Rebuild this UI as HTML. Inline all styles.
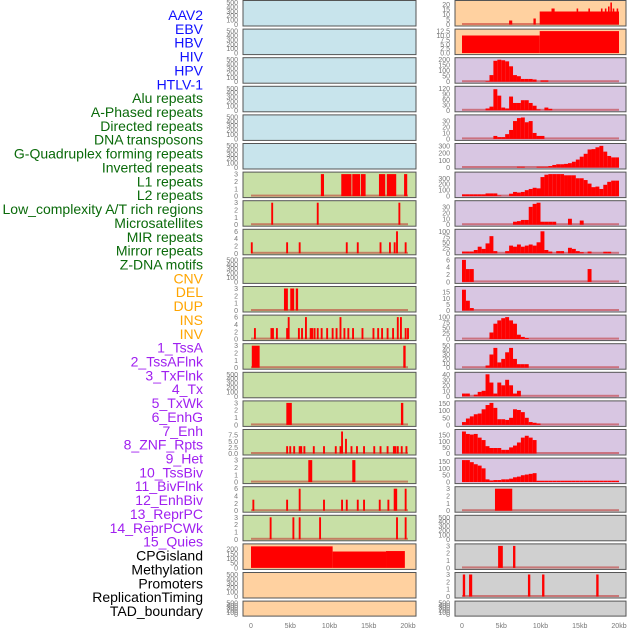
<!DOCTYPE html>
<html><head><meta charset="utf-8">
<style>
html,body{margin:0;padding:0;background:#fff;}
svg{display:block;font-family:"Liberation Sans",sans-serif;}
</style></head>
<body>
<svg id="chart" width="630" height="630" viewBox="0 0 630 630"></svg>
<script>
// ---- Track labels ----
const labelNames = ["AAV2","EBV","HBV","HIV","HPV","HTLV-1","Alu repeats","A-Phased repeats","Directed repeats","DNA transposons","G-Quadruplex forming repeats","Inverted repeats","L1 repeats","L2 repeats","Low_complexity A/T rich regions","Microsatellites","MIR repeats","Mirror repeats","Z-DNA motifs","CNV","DEL","DUP","INS","INV","1_TssA","2_TssAFlnk","3_TxFlnk","4_Tx","5_TxWk","6_EnhG","7_Enh","8_ZNF_Rpts","9_Het","10_TssBiv","11_BivFlnk","12_EnhBiv","13_ReprPC","14_ReprPCWk","15_Quies","CPGisland","Methylation","Promoters","ReplicationTiming","TAD_boundary"];
const labelGroups = [6,13,5,15,5];
const groupColors = ["#1010ff","#0a6a0a","#ffa500","#a020f0","#000000"];
const xTicks = [0,5000,10000,15000,20000];
const xTickLabels = ["0","5kb","10kb","15kb","20kb"];

// ---- Left column data (spikes: kb positions / values, blocks: [start,end,value]) ----
const l1Blocks = [[8.9,9.3,3],[11.5,12.8,3],[12.9,13.9,3],[14.0,14.6,3],[16.3,17.1,3],[17.3,18.5,3],[19.5,19.9,3]];
const l2Spikes = [2.7,8.5,18.9];
const l2Values = [3,3,3];
const lowcSpikes = [0.1,4.6,6.2,12.2,13.6,16.5,17.7,18.3,18.6,19.7];
const lowcValues = [3,3,3,3,3,3,3,3,6,3];
const mirBlocks = [[4.2,4.7,3],[5.0,5.5,3],[5.7,6.0,3]];
const msatSpikes = [0.5,2.6,2.8,3.3,4.6,4.8,6.1,6.5,7.0,7.6,7.8,8.1,8.5,9.0,9.7,10.4,10.9,11.4,11.9,12.4,13.0,14.2,15.6,16.2,16.7,17.4,18.1,18.7,19.1,20.0,19.7];
const msatValues = [3,3,3,3,3,6,3,3,6,3,3,3,3,3,3,3,3,6,3,3,3,3,3,3,3,3,3,6,6,3,3];
const zdnaBlocks = [[0.1,1.1,3],[19.4,19.7,3]];
const cnvBlocks = [[4.5,5.2,3],[19.1,19.4,3]];
const delSpikes = [4.6,5.0,5.5,6.2,6.4,6.8,8.0,9.3,10.8,11.4,11.6,12.1,12.8,13.5,14.4,15.7,16.5,17.4,18.2,18.4,18.7,19.2,19.8];
const delValues = [3,3,3,3,3,3,3,3,3,3,9,6,3,3,3,3,3,3,3,3,3,3,3];
const dupBlocks = [[7.3,7.8,3],[12.9,13.3,3]];
const insSpikes = [0.3,4.6,6.2,9.3,11.6,12.2,13.6,14.4,16.4,17.5,18.3,18.5,19.7];
const insValues = [3,3,6,3,3,3,3,3,3,3,6,6,6];
const invSpikes = [2.5,5.4,6.2,8.8,18.6,19.7];
const invValues = [3,3,3,3,3,3];
const cpgBlocks = [[0,10.4,230],[10.4,17.2,175],[17.2,19.6,180]];

// ---- Right column data (0.5kb bins from 0 to 20kb) ----
const hivBins = [0,0,0,0,0,0,5,60,190,200,195,185,140,60,50,25,25,25,20,0,12,12,0,0,0,0,0,0,0,0,0,0,0,0,0,0,0,0,0,0];
const hpvBins = [0,0,0,0,0,0,10,20,115,80,15,10,75,40,40,55,55,40,25,5,0,15,8,0,0,0,0,0,0,0,0,0,0,0,0,0,0,0,0,0];
const htlvBins = [0,0,0,0,0,0,0,0,5,3,3,8,15,30,35,36,28,30,10,5,5,0,0,0,0,0,0,0,0,0,0,0,0,0,0,0,0,0,0,0];
const aluBins = [0,0,0,0,0,0,0,0,0,0,0,0,0,0,10,10,0,0,0,10,10,10,20,35,45,45,50,60,80,110,150,190,250,255,280,300,220,160,140,140];
const aphasedBins = [30,30,30,30,30,30,45,45,45,10,0,0,40,70,60,70,100,120,140,130,320,360,370,370,370,370,350,350,350,300,300,270,210,150,160,120,190,240,260,260];
const directedBins = [0,0,0,0,0,0,0,0,0,0,0,0,0,5,6,8,8,30,35,37,5,5,5,5,0,0,0,10,0,0,7,0,0,0,0,0,0,0,0,0];
const dnaBins = [8,8,8,15,30,20,45,78,10,0,0,10,35,30,40,30,35,40,35,50,100,15,8,0,10,10,0,25,20,10,5,0,8,0,0,0,7,7,0,0];
const mirrorBins = [6,3.5,3.5,0,0,0,0,0,0,0,0,0,0,0,0,0,0,0,0,0,0,0,0,0,0,0,0,0,0,0,0,0,3.5,0,0,0,0,0,0,0];
const zdnaBins = [17,8,2,0,0,0,0,0,0,0,0,0,0,0,0,0,0,0,0,0,0,0,0,0,0,0,0,0,0,0,0,0,0,0,0,0,0,0,0,0];
const cnvBins = [0,0,0,0,0,0,0,30,70,85,95,100,85,70,20,10,5,0,0,0,0,0,0,0,0,0,0,0,0,0,0,0,0,0,0,0,0,0,0,0];
const delBins = [0,0,0,0,0,0,5,30,45,12,20,35,45,20,8,8,8,0,0,0,0,0,0,0,0,0,0,0,0,0,0,0,0,0,0,0,0,0,0,0];
const dupBins = [5,5,0,3,8,10,40,25,5,25,20,30,20,5,10,0,0,0,0,0,0,0,0,0,0,0,0,0,0,0,0,0,0,0,0,0,0,0,0,0];
const insBins = [20,45,60,75,80,110,140,155,120,40,40,35,50,110,105,90,50,20,15,10,0,0,0,0,0,0,0,0,0,0,0,0,0,0,0,0,0,0,0,0];
const invBins = [180,160,155,160,130,110,60,45,45,45,30,30,50,65,90,130,145,130,110,0,0,0,0,0,0,0,0,0,0,0,0,0,0,0,0,0,0,0,0,0];
const tssaBins = [160,160,145,130,120,100,20,12,15,15,20,20,25,35,40,50,55,60,65,10,10,10,10,10,10,10,10,10,10,10,10,10,10,10,10,10,10,10,10,10];
const aavBlocks = [[6.0,6.4,4],[9.1,9.4,6],[9.9,20,13],[11.4,11.8,16],[14.6,14.8,16],[16.1,16.3,16],[17.7,17.9,16],[18.2,18.4,16],[18.6,18.8,18],[18.9,19.1,22],[19.2,19.4,16],[19.7,19.9,16]];
const ebvBlocks = [[0,9.9,10],[9.9,20,12.5]];
const g17Blocks = [[4.2,6.4,3]];
const g19Blocks = [[4.6,5.2,3],[6.5,6.8,3]];
const g20Blocks = [[0.1,0.4,3],[0.9,1.3,3],[8.4,8.7,3],[10.2,10.5,3],[17.1,17.4,3]];

function spikes(pos, vals){ return pos.map((p,i)=>[p-0.12,p+0.12,vals[i]]); }
function bins(arr){ return arr.map((v,i)=>[i*0.5,(i+1)*0.5,v]); }

const BLUE="#c8e4ec", GREEN="#c8e0a6", ORANGE="#ffd1a0", PURPLE="#d8c6e2", GRAY="#d0d0d0";
const T500=[0,100,200,300,400,500], T3=[0,1,2,3], T6=[0,2,4,6];
const leftPanels = [
 {bg:BLUE,ticks:T500,max:500,d:[]},{bg:BLUE,ticks:T500,max:500,d:[]},{bg:BLUE,ticks:T500,max:500,d:[]},
 {bg:BLUE,ticks:T500,max:500,d:[]},{bg:BLUE,ticks:T500,max:500,d:[]},{bg:BLUE,ticks:T500,max:500,d:[]},
 {bg:GREEN,ticks:T3,max:3,d:l1Blocks,base:1},
 {bg:GREEN,ticks:T3,max:3,d:spikes(l2Spikes,l2Values),base:1},
 {bg:GREEN,ticks:T6,max:6,d:spikes(lowcSpikes,lowcValues),base:1},
 {bg:GREEN,ticks:T500,max:500,d:[]},
 {bg:GREEN,ticks:T3,max:3,d:mirBlocks,base:1},
 {bg:GREEN,ticks:T6,max:6,d:spikes(msatSpikes,msatValues),base:1},
 {bg:GREEN,ticks:T3,max:3,d:zdnaBlocks,base:1},
 {bg:GREEN,ticks:T500,max:500,d:[]},
 {bg:GREEN,ticks:T3,max:3,d:cnvBlocks,base:1},
 {bg:GREEN,ticks:[0,2.5,5,7.5],lab:["0.0","2.5","5.0","7.5"],max:9,d:spikes(delSpikes,delValues),base:1},
 {bg:GREEN,ticks:T3,max:3,d:dupBlocks,base:1},
 {bg:GREEN,ticks:T6,max:6,d:spikes(insSpikes,insValues),base:1},
 {bg:GREEN,ticks:T3,max:3,d:spikes(invSpikes,invValues),base:1},
 {bg:ORANGE,ticks:[0,50,100,150,200],max:235,d:cpgBlocks},
 {bg:ORANGE,ticks:T500,max:500,d:[]},
 {bg:ORANGE,ticks:T500,max:500,d:[]}
];
const rightPanels = [
 {bg:ORANGE,ticks:[0,5,10,15,20],max:22,d:aavBlocks,base:1},
 {bg:ORANGE,ticks:[0,2.5,5,7.5,10,12.5],lab:["0.0","2.5","5.0","7.5","10.0","12.5"],max:12.5,d:ebvBlocks},
 {bg:PURPLE,ticks:[0,50,100,150,200],max:200,d:bins(hivBins),base:1},
 {bg:PURPLE,ticks:[0,30,60,90,120],max:120,d:bins(hpvBins),base:1},
 {bg:PURPLE,ticks:[0,10,20,30],max:37,d:bins(htlvBins),base:1},
 {bg:PURPLE,ticks:[0,100,200,300],max:305,d:bins(aluBins),base:1},
 {bg:PURPLE,ticks:[0,100,200,300],max:370,d:bins(aphasedBins),base:1},
 {bg:PURPLE,ticks:[0,10,20,30],max:37,d:bins(directedBins),base:1},
 {bg:PURPLE,ticks:[0,25,50,75,100],max:100,d:bins(dnaBins),base:1},
 {bg:PURPLE,ticks:[0,2,4,6],max:6,d:bins(mirrorBins),base:1},
 {bg:PURPLE,ticks:[0,5,10,15],max:18,d:bins(zdnaBins),base:1},
 {bg:PURPLE,ticks:[0,25,50,75,100],max:100,d:bins(cnvBins),base:1},
 {bg:PURPLE,ticks:[0,10,20,30,40,50],max:50,d:bins(delBins),base:1},
 {bg:PURPLE,ticks:[0,10,20,30,40],max:40,d:bins(dupBins),base:1},
 {bg:PURPLE,ticks:[0,50,100,150],max:155,d:bins(insBins),base:1},
 {bg:PURPLE,ticks:[0,50,100,150],max:180,d:bins(invBins),base:1},
 {bg:PURPLE,ticks:[0,50,100,150],max:160,d:bins(tssaBins)},
 {bg:GRAY,ticks:T3,max:3,d:g17Blocks,base:1},
 {bg:GRAY,ticks:T500,max:500,d:[]},
 {bg:GRAY,ticks:T3,max:3,d:g19Blocks,base:1},
 {bg:GRAY,ticks:T3,max:3,d:g20Blocks,base:1},
 {bg:GRAY,ticks:T500,max:500,d:[]}
];

const svg = document.getElementById('chart');
const NS = "http://www.w3.org/2000/svg";
function mk(tag, attrs, parent){ const e=document.createElementNS(NS,tag); for(const k in attrs) e.setAttribute(k,attrs[k]); (parent||svg).appendChild(e); return e; }

// labels
let li=0;
labelGroups.forEach((n,g)=>{ for(let k=0;k<n;k++){
  const t = mk('text',{x:203,y:15+li*13.86+5,'text-anchor':'end','font-size':14,fill:groupColors[g]});
  t.textContent = labelNames[li];
  
  
  li++; } });

function rowTop(i){ return i*28.6; }
function rowH(i){ return i===21?15:25.5; }

function drawCol(panels, px0, px1, dx0, dx1, name){
  const xs = kb => dx0 + kb/20*(dx1-dx0);
  panels.forEach((p,i)=>{
    const top=rowTop(i), h=rowH(i);
    const g = mk('g',{});
    
    
    mk('rect',{x:px0,y:top+0.5,width:px1-px0,height:h,fill:p.bg,stroke:'#555','stroke-width':1},g);
    const yb = top+h-1, yt = top+2.5;
    const ys = v => yb - v/p.max*(yb-yt);
    p.ticks.forEach((tv,k)=>{
      const t = mk('text',{x:px0-5,y:ys(tv)+2.5,'text-anchor':'end','font-size':7,fill:'#777'},g);
      t.textContent = p.lab?p.lab[k]:String(tv);
    });
    if(p.base){ mk('rect',{x:xs(0),y:yb-1.5,width:xs(20)-xs(0),height:2,fill:'rgba(190,30,30,0.5)'},g); }
    p.d.forEach(b=>{ if(b[2]<=0) return;
      const r = mk('rect',{x:xs(b[0]),y:ys(b[2]),width:Math.max(1,xs(b[1])-xs(b[0])),height:yb-ys(b[2]),fill:'#ff0000'},g);
      
      
    });
  });
  xTicks.forEach((v,k)=>{
    const t = mk('text',{x:xs(v/1000),y:628,'text-anchor':'middle','font-size':7,fill:'#777'});
    t.textContent = xTickLabels[k];
    
    
  });
}
drawCol(leftPanels, 243, 416, 251, 408, 'left');
drawCol(rightPanels, 455, 626, 462, 619, 'right');
</script>
</body></html>
